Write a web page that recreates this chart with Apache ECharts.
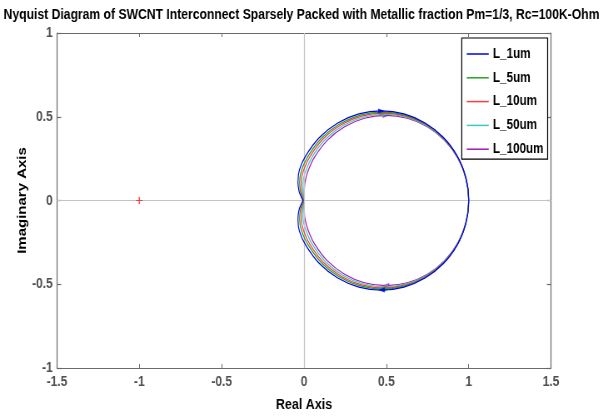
<!DOCTYPE html>
<html>
<head>
<meta charset="utf-8">
<script src="https://cdn.jsdelivr.net/npm/echarts@6/dist/echarts.min.js"></script>
<style>
  html, body { margin: 0; padding: 0; background: #fff; overflow: hidden; }
  /* The figure is laid out 1.2x wider and squeezed back horizontally,
     which gives the condensed lettering of the printed figure. */
  #chart { width: 724px; height: 417px; transform: scaleX(0.8329); transform-origin: 0 0; }
</style>
</head>
<body>
<div id="chart"></div>
<script>
const FONT = '"Liberation Sans", Arial, Helvetica, sans-serif';
const SQUEEZE = 1.2; // horizontal layout factor (screen px * SQUEEZE = chart px)

const chartTitle = 'Nyquist Diagram of SWCNT Interconnect Sparsely Packed with Metallic fraction Pm=1/3, Rc=100K-Ohm';
const xTicks = [-1.5, -1, -0.5, 0, 0.5, 1, 1.5];
const yTicks = [-1, -0.5, 0, 0.5, 1];

const seriesNames = ['L_1um', 'L_5um', 'L_10um', 'L_50um', 'L_100um'];
const seriesColors = ['#0000e6', '#22a322', '#ff3b3b', '#3cc8c8', '#a51ab5'];

// Each response: [real, imag] from the origin, over the upper branch to (1,0),
// then back along the lower branch to the origin.
const L_1um = [
  [-0.006, 0.000], [-0.016, 0.020], [-0.030, 0.055], [-0.037, 0.110], [-0.028, 0.183],
  [0.011, 0.268], [0.095, 0.378], [0.205, 0.463], [0.333, 0.517], [0.470, 0.535],
  [0.607, 0.517], [0.735, 0.463], [0.845, 0.378], [0.929, 0.268], [0.982, 0.139],
  [1.000, 0.000],
  [0.982, -0.139], [0.929, -0.268], [0.845, -0.378], [0.735, -0.463], [0.607, -0.517],
  [0.470, -0.535], [0.333, -0.517], [0.205, -0.463], [0.095, -0.378], [0.011, -0.268],
  [-0.028, -0.183], [-0.037, -0.110], [-0.030, -0.055], [-0.016, -0.020], [-0.006, 0.000]
];
const L_5um = [
  [-0.004, 0.000], [-0.011, 0.020], [-0.022, 0.055], [-0.027, 0.110], [-0.015, 0.181],
  [0.024, 0.264], [0.107, 0.373], [0.216, 0.457], [0.342, 0.510], [0.477, 0.528],
  [0.612, 0.510], [0.739, 0.457], [0.847, 0.373], [0.930, 0.264], [0.982, 0.137],
  [1.000, 0.000],
  [0.982, -0.137], [0.930, -0.264], [0.847, -0.373], [0.739, -0.457], [0.612, -0.510],
  [0.477, -0.528], [0.342, -0.510], [0.216, -0.457], [0.107, -0.373], [0.024, -0.264],
  [-0.015, -0.181], [-0.027, -0.110], [-0.022, -0.055], [-0.011, -0.020], [-0.004, 0.000]
];
const L_10um = [
  [-0.002, 0.000], [-0.007, 0.020], [-0.014, 0.055], [-0.017, 0.110], [-0.003, 0.179],
  [0.035, 0.261], [0.117, 0.369], [0.225, 0.452], [0.349, 0.504], [0.483, 0.522],
  [0.617, 0.504], [0.742, 0.452], [0.849, 0.369], [0.931, 0.261], [0.982, 0.135],
  [1.000, 0.000],
  [0.982, -0.135], [0.931, -0.261], [0.849, -0.369], [0.742, -0.452], [0.617, -0.504],
  [0.483, -0.522], [0.349, -0.504], [0.225, -0.452], [0.117, -0.369], [0.035, -0.261],
  [-0.003, -0.179], [-0.017, -0.110], [-0.014, -0.055], [-0.007, -0.020], [-0.002, 0.000]
];
const L_50um = [
  [0.000, 0.000], [-0.003, 0.020], [-0.006, 0.055], [-0.006, 0.110], [0.011, 0.176],
  [0.048, 0.258], [0.129, 0.364], [0.235, 0.446], [0.358, 0.497], [0.490, 0.515],
  [0.622, 0.497], [0.745, 0.446], [0.851, 0.364], [0.932, 0.258], [0.983, 0.133],
  [1.000, 0.000],
  [0.983, -0.133], [0.932, -0.258], [0.851, -0.364], [0.745, -0.446], [0.622, -0.497],
  [0.490, -0.515], [0.358, -0.497], [0.235, -0.446], [0.129, -0.364], [0.048, -0.258],
  [0.011, -0.176], [-0.006, -0.110], [-0.006, -0.055], [-0.003, -0.020], [0.000, 0.000]
];
const L_100um = [
  [0.000, 0.000], [0.000, 0.020], [0.001, 0.055], [0.006, 0.110], [0.024, 0.174],
  [0.061, 0.254], [0.141, 0.359], [0.246, 0.440], [0.367, 0.491], [0.497, 0.508],
  [0.627, 0.491], [0.749, 0.440], [0.853, 0.359], [0.933, 0.254], [0.983, 0.132],
  [1.000, 0.000],
  [0.983, -0.132], [0.933, -0.254], [0.853, -0.359], [0.749, -0.440], [0.627, -0.491],
  [0.497, -0.508], [0.367, -0.491], [0.246, -0.440], [0.141, -0.359], [0.061, -0.254],
  [0.024, -0.174], [0.006, -0.110], [0.001, -0.055], [0.000, -0.020], [0.000, 0.000]
];
const curves = [L_1um, L_5um, L_10um, L_50um, L_100um];

// Indices on each curve where the direction arrows sit (upper and lower branch).
const arrowIndexUpper = 9;
const arrowIndexLower = 21;

// Critical point -1 + 0j.
const criticalPoint = [[-1, 0]];

const axisGray = '#6a6a6a';
const labelGray = '#4f4f4f';

const baseXAxis = {
  type: 'value',
  min: xTicks[0],
  max: xTicks[xTicks.length - 1],
  interval: xTicks[1] - xTicks[0],
  splitLine: { show: false },
  axisLine: { show: true, onZero: false, lineStyle: { color: axisGray, width: 1 } },
  axisTick: { show: true, inside: true, length: 4, lineStyle: { color: axisGray } }
};
const baseYAxis = {
  type: 'value',
  min: yTicks[0],
  max: yTicks[yTicks.length - 1],
  interval: yTicks[1] - yTicks[0],
  splitLine: { show: false },
  axisLine: { show: true, onZero: false, lineStyle: { color: axisGray, width: 1.2 } },
  axisTick: { show: true, inside: true, length: 5, lineStyle: { color: axisGray, width: 1.2 } }
};

const series = [];

// Zero reference lines
series.push({
  type: 'line',
  name: 'zero-lines',
  data: [],
  silent: true,
  z: 1,
  markLine: {
    silent: true,
    symbol: ['none', 'none'],
    label: { show: false },
    lineStyle: { color: '#c4c4c4', type: 'solid', width: 1 },
    data: [{ xAxis: 0, lineStyle: { width: 1.2 } }, { yAxis: 0 }],
    animation: false
  }
});

curves.forEach((c, i) => {
  series.push({
    type: 'line',
    name: seriesNames[i],
    data: c,
    smooth: 0.3,
    showSymbol: false,
    symbol: 'none',
    lineStyle: { color: seriesColors[i], width: 1.2 },
    itemStyle: { color: seriesColors[i] },
    z: 3 + (4 - i),
    animation: false
  });
  series.push({
    type: 'scatter',
    name: seriesNames[i] + ' arrows',
    symbol: 'triangle',
    symbolSize: [5, 8],
    itemStyle: { color: seriesColors[i] },
    data: [
      { value: c[arrowIndexUpper], symbolRotate: -90 },
      { value: c[arrowIndexLower], symbolRotate: 90 }
    ],
    z: 3 + (4 - i),
    silent: true,
    animation: false
  });
});

series.push({
  type: 'scatter',
  name: 'critical',
  data: criticalPoint,
  symbol: 'path://M-0.7,-4h1.4v3.3h3.3v1.4h-3.3v3.3h-1.4v-3.3h-3.3v-1.4h3.3z',
  symbolSize: [8, 7],
  itemStyle: { color: '#ff1a1a' },
  z: 10,
  silent: true,
  animation: false
});

const chart = echarts.init(document.getElementById('chart'), null, { renderer: 'canvas' });
chart.setOption({
  backgroundColor: '#ffffff',
  animation: false,
  title: {
    text: chartTitle,
    left: 'center',
    top: 2,
    textStyle: { fontFamily: FONT, fontWeight: 'bold', fontSize: 14.6, color: '#000' }
  },
  grid: { left: 57 * SQUEEZE, right: 52 * SQUEEZE, top: 33, bottom: 48 },
  legend: {
    data: seriesNames,
    orient: 'vertical',
    left: 462 * SQUEEZE,
    top: 38,
    icon: 'rect',
    itemWidth: 22 * SQUEEZE,
    itemHeight: 1.5,
    itemGap: 9.8,
    padding: [9, 5, 3, 6],
    backgroundColor: '#ffffff',
    borderColor: '#000000',
    borderWidth: 1.2,
    z: 20,
    textStyle: { fontFamily: FONT, fontWeight: 'bold', fontSize: 14, color: '#000', lineHeight: 14 }
  },
  xAxis: [
    Object.assign({}, baseXAxis, {
      position: 'bottom',
      axisLabel: { color: labelGray, fontFamily: FONT, fontWeight: 'bold', fontSize: 14.5, margin: 6 },
      name: 'Real Axis',
      nameLocation: 'middle',
      nameGap: 29,
      nameMoveOverlap: false,
      nameTextStyle: { fontFamily: FONT, fontWeight: 'bold', fontSize: 15, color: '#000' }
    }),
    Object.assign({}, baseXAxis, { position: 'top', axisLabel: { show: false } })
  ],
  yAxis: [
    Object.assign({}, baseYAxis, {
      position: 'left',
      axisLabel: { color: labelGray, fontFamily: FONT, fontWeight: 'bold', fontSize: 14.5, margin: 5 },
      name: 'Imaginary Axis',
      nameLocation: 'middle',
      nameRotate: 90,
      nameGap: 34,
      nameMoveOverlap: false,
      nameTextStyle: { fontFamily: FONT, fontWeight: 'bold', fontSize: 15, color: '#000' }
    }),
    Object.assign({}, baseYAxis, { position: 'right', axisLabel: { show: false } })
  ],
  series: series
});
</script>
</body>
</html>
